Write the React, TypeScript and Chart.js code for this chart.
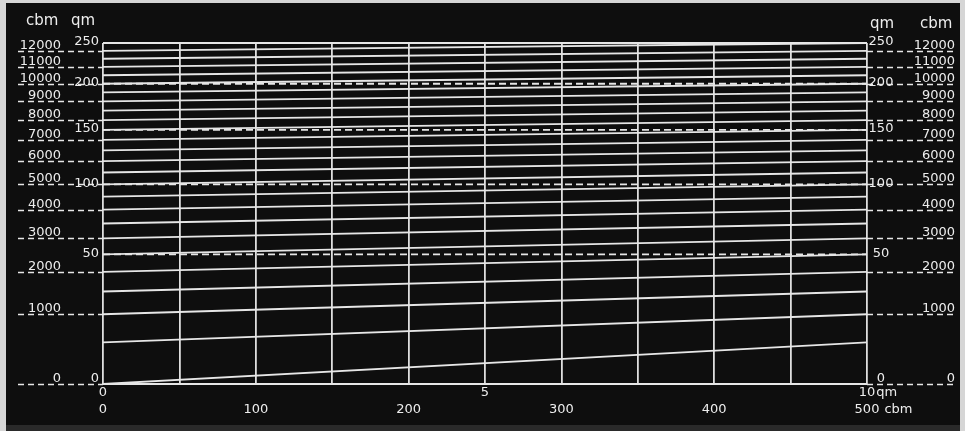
import React, { useEffect, useRef } from 'react';
import { Chart, registerables, LinearScale } from 'chart.js';

// ---- data ----
const qmTicks = [0, 50, 100, 150, 200, 250];
const cbmTicks = [0, 1000, 2000, 3000, 4000, 5000, 6000, 7000, 8000, 9000, 10000, 11000, 12000];
const qmGuides = [50, 100, 150, 200];
const fanFrom = [0, 10, 20, 30, 40, 50, 60, 70, 80, 90, 100, 110, 120, 130, 140, 150, 160, 170, 180, 190, 200, 210, 220, 230, 240];
const fanTo = [10, 20, 30, 40, 50, 60, 70, 80, 90, 100, 110, 120, 130, 140, 150, 160, 170, 180, 190, 200, 210, 220, 230, 240, 250];
const xQmLabels = [0, 5, 10];
const xCbmLabels = [0, 100, 200, 300, 400, 500];
const xStart = 0;
const xEnd = 10;
const qmUnit = 'qm';
const cbmUnit = 'cbm';

// shift of the square-root scale per axis (qm axis and the equivalent cbm axis)
const SHIFT: Record<string, number> = { y: 4.5, yc: 225 };

class SqrtShiftScale extends LinearScale {
  static id = 'sqrtShift';
  static defaults = LinearScale.defaults;
  _t(v: number) {
    const s = SHIFT[(this as any).id] ?? 0;
    return Math.sqrt(Math.max(v + s, 0)) - Math.sqrt(s);
  }
  getPixelForValue(value: number) {
    if (value === null || value === undefined || isNaN(value)) return NaN;
    const a = this._t((this as any).min);
    const b = this._t((this as any).max);
    return (this as any).getPixelForDecimal((this._t(value) - a) / (b - a));
  }
  getValueForPixel(pixel: number) {
    const s = SHIFT[(this as any).id] ?? 0;
    const a = this._t((this as any).min);
    const b = this._t((this as any).max);
    const tv = a + (this as any).getDecimalForPixel(pixel) * (b - a);
    return Math.pow(tv + Math.sqrt(s), 2) - s;
  }
}

Chart.register(...registerables, SqrtShiftScale as any);

const INK = '#e6e6e6';
const NUM_FONT = '13px "DejaVu Sans", "Liberation Sans", sans-serif';
const HEAD_FONT = '15px "DejaVu Sans", "Liberation Sans", sans-serif';

const nomogramPlugin = {
  id: 'nomogram',
  beforeDraw(chart: any) {
    const { ctx, width, height } = chart;
    ctx.save();
    ctx.fillStyle = '#0e0e0e';
    ctx.fillRect(0, 0, width, height);
    ctx.fillStyle = '#d6d6d6';
    ctx.fillRect(0, 0, width, 3);
    ctx.fillRect(0, 0, 6, height);
    ctx.fillRect(width - 5, 0, 5, height);
    ctx.fillStyle = '#2a2a2a';
    ctx.fillRect(6, height - 6, width - 11, 6);
    ctx.restore();
  },
  afterDraw(chart: any) {
    const { ctx, chartArea: ca, scales } = chart;
    const y = scales.y;
    const yc = scales.yc;
    const x = scales.x;
    const xc = scales.xc;
    ctx.save();
    ctx.strokeStyle = INK;
    ctx.fillStyle = '#ededed';
    ctx.lineWidth = 1.5;

    const hline = (x0: number, x1: number, py: number) => {
      ctx.beginPath();
      ctx.moveTo(x0, py);
      ctx.lineTo(x1, py);
      ctx.stroke();
    };

    // cbm ticks, both sides
    ctx.font = NUM_FONT;
    for (const v of cbmTicks) {
      const py = Math.round(yc.getPixelForValue(v)) + 0.5;
      ctx.setLineDash([6, 4]);
      hline(18, ca.left, py);
      hline(ca.right, 957, py);
      ctx.setLineDash([]);
      ctx.textAlign = 'right';
      ctx.textBaseline = 'alphabetic';
      ctx.fillText(String(v), 61, py - 2.5);
      ctx.fillText(String(v), 955, py - 2.5);
    }

    // qm labels, both sides
    for (const v of qmTicks) {
      const py = y.getPixelForValue(v);
      const base = v === qmTicks[0];
      ctx.textBaseline = base ? 'alphabetic' : 'middle';
      const ty = base ? py - 2.5 : py - 1;
      ctx.textAlign = 'right';
      ctx.fillText(String(v), 99, ty);
      ctx.textAlign = 'center';
      ctx.fillText(String(v), 881, ty);
    }

    // headers
    ctx.font = HEAD_FONT;
    ctx.textBaseline = 'middle';
    ctx.textAlign = 'left';
    ctx.fillText(cbmUnit, 26, 21);
    ctx.fillText(qmUnit, 71, 21);
    ctx.fillText(qmUnit, 870, 24);
    ctx.fillText(cbmUnit, 920, 24);

    // bottom labels
    ctx.font = NUM_FONT;
    ctx.textBaseline = 'middle';
    const drawRow = (vals: number[], scale: any, ty: number, unit: string) => {
      vals.forEach((v, i) => {
        const px = scale.getPixelForValue(v);
        const s = String(v);
        ctx.textAlign = 'center';
        ctx.fillText(s, px, ty);
        if (i === vals.length - 1) {
          const w = ctx.measureText(s).width;
          ctx.textAlign = 'left';
          ctx.fillText(unit, px + w / 2 + (unit === qmUnit ? 1 : 5), ty);
        }
      });
    };
    drawRow(xQmLabels, x, 393, qmUnit);
    drawRow(xCbmLabels, xc, 410, cbmUnit);

    ctx.restore();
  },
};

export default function App() {
  const ref = useRef<HTMLCanvasElement | null>(null);

  useEffect(() => {
    if (!ref.current) return;
    const lineStyle = { borderColor: INK, borderWidth: 1.8, pointRadius: 0, fill: false, xAxisID: 'x', yAxisID: 'y' };
    const datasets: any[] = [
      ...fanFrom.map((f, i) => ({
        ...lineStyle,
        label: `${f}–${fanTo[i]}`,
        data: [{ x: xStart, y: f }, { x: xEnd, y: fanTo[i] }],
      })),
      ...qmGuides.map((q) => ({
        ...lineStyle,
        label: `${q} qm`,
        borderDash: [7, 4],
        data: [{ x: xStart, y: q }, { x: xEnd, y: q }],
      })),
    ];
    const edgeVals = [qmTicks[0], qmTicks[qmTicks.length - 1]];
    const chart = new Chart(ref.current, {
      type: 'line',
      data: { datasets },
      options: {
        animation: false,
        responsive: false,
        devicePixelRatio: 1,
        events: [],
        layout: { padding: { left: 103, right: 98, top: 43, bottom: 47 } },
        plugins: { legend: { display: false }, tooltip: { enabled: false } },
        scales: {
          x: {
            type: 'linear',
            min: xStart,
            max: xEnd,
            ticks: { display: false, stepSize: 1 },
            grid: { color: '#dedede', lineWidth: 1.8, drawTicks: false },
            border: { display: true, color: INK, width: 2 },
          },
          xc: { type: 'linear', display: false, min: 0, max: 500 },
          y: {
            type: 'sqrtShift' as any,
            min: 0,
            max: 250,
            ticks: { display: false, stepSize: 50 },
            grid: {
              drawTicks: false,
              lineWidth: 2,
              color: (c: any) => (c.tick && edgeVals.includes(c.tick.value) ? INK : 'rgba(0,0,0,0)'),
            },
            border: { display: false },
          },
          yc: { type: 'sqrtShift' as any, display: false, min: 0, max: 12500 },
        } as any,
      },
      plugins: [nomogramPlugin],
    });
    return () => chart.destroy();
  }, []);

  return (
    <div style={{ position: 'absolute', left: 0, top: 0, width: 965, height: 431, background: '#0e0e0e' }}>
      <canvas ref={ref} width={965} height={431} style={{ display: 'block', width: 965, height: 431 }} />
    </div>
  );
}
